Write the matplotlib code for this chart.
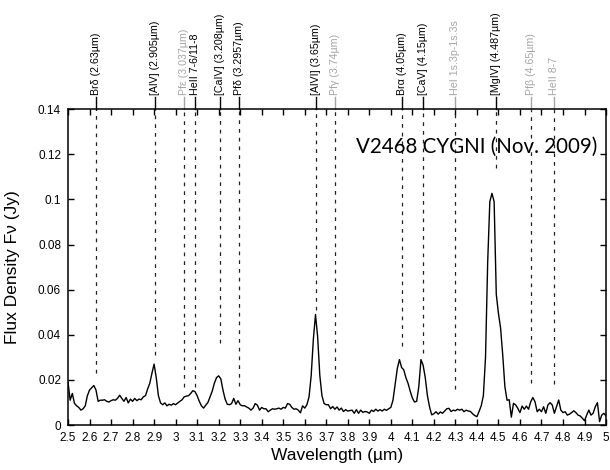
''' Espectre de V2468 Cygni (Nov. 2009) amb les línies identificades '''

import matplotlib.pyplot as plt
import numpy as np

plt.rcParams['font.family'] = ['Liberation Sans', 'DejaVu Sans']

# Longitud d'ona (um), pas de 0.01
wave = np.round(np.arange(2.50, 5.001, 0.01), 2)

# Flux (Jy), llegit del gràfic
flux = [
    0.019, 0.011, 0.014, 0.0096, 0.0085, 0.0078, 0.0066, 0.0072, 0.0085, 0.013,
    0.0155, 0.0165, 0.0175, 0.0155, 0.0105, 0.011, 0.011, 0.0112, 0.0105, 0.0102,
    0.0108, 0.0112, 0.011, 0.0118, 0.0132, 0.0118, 0.0105, 0.0122, 0.0098, 0.0115,
    0.0105, 0.0118, 0.0108, 0.0115, 0.0112, 0.0125, 0.013, 0.016, 0.0185, 0.023,
    0.027, 0.021, 0.013, 0.0098, 0.009, 0.0098, 0.0085, 0.0092, 0.0088, 0.0095,
    0.009, 0.0098, 0.0105, 0.0112, 0.0125, 0.0128, 0.013, 0.014, 0.0152, 0.0148,
    0.013, 0.0105, 0.0085, 0.0075, 0.0088, 0.0100, 0.0125, 0.0150, 0.0185, 0.0210,
    0.0218, 0.0205, 0.0155, 0.0115, 0.0092, 0.0090, 0.0095, 0.0118, 0.0092, 0.0108,
    0.0090, 0.0085, 0.0086, 0.0080, 0.0075, 0.0066, 0.0075, 0.0095, 0.0088, 0.0066,
    0.0078, 0.0072, 0.0072, 0.0059, 0.0066, 0.0072, 0.0070, 0.0072, 0.0075, 0.0070,
    0.0078, 0.0075, 0.0095, 0.0092, 0.0078, 0.0070, 0.0072, 0.0066, 0.0054, 0.0085,
    0.0075, 0.0090, 0.0125, 0.022, 0.038, 0.049, 0.039, 0.022, 0.013, 0.0095,
    0.0090, 0.0090, 0.0072, 0.0082, 0.0070, 0.0080, 0.0066, 0.0075, 0.0060, 0.0068,
    0.0062, 0.0064, 0.0066, 0.0052, 0.0068, 0.0052, 0.0066, 0.0056, 0.0060, 0.0058,
    0.0052, 0.0066, 0.0060, 0.0070, 0.0062, 0.0068, 0.0062, 0.0070, 0.0065, 0.0072,
    0.0078, 0.0110, 0.0180, 0.0250, 0.0290, 0.0255, 0.0245, 0.0210, 0.0185, 0.0150,
    0.0120, 0.0102, 0.0105, 0.0170, 0.0290, 0.0265, 0.0210, 0.0130, 0.0080, 0.0045,
    0.0050, 0.0059, 0.0048, 0.0058, 0.0052, 0.0062, 0.0072, 0.0074, 0.0060, 0.0066,
    0.0063, 0.0070, 0.0066, 0.0070, 0.0059, 0.0066, 0.0062, 0.0060, 0.0050, 0.0042,
    0.0037, 0.0060, 0.0085, 0.0130, 0.0300, 0.0720, 0.0990, 0.1027, 0.0990, 0.0580,
    0.0495, 0.0430, 0.0310, 0.0170, 0.0110, 0.0112, 0.0035, 0.0096, 0.0089, 0.0074,
    0.0055, 0.0084, 0.0070, 0.0084, 0.0070, 0.0103, 0.0122, 0.0103, 0.0059, 0.0070,
    0.0059, 0.0081, 0.0052, 0.0089, 0.0099, 0.0089, 0.0052, 0.0081, 0.0111, 0.0066,
    0.0055, 0.0059, 0.0044, 0.0048, 0.0055, 0.0063, 0.0055, 0.0044, 0.0040, 0.0030,
    0.0019, 0.0044, 0.0066, 0.0044, 0.0052, 0.0081, 0.0099, 0.0015, 0.0044, 0.0052,
    0.0040,
]

# Línies identificades
line_labels = ['Brδ (2.63µm)', '[AlV] (2.905µm)', 'Pfε (3.037µm)', 'HeII 7-6/11-8',
               '[CaIV] (3.208µm)', 'Pfδ (3.2957µm)', '[AlVI] (3.65µm)', 'Pfγ (3.74µm)',
               'Brα (4.05µm)', '[CaV] (4.15µm)', 'HeI 1s.3p-1s.3s', '[MgIV] (4.487µm)',
               'Pfβ (4.65µm)', 'HeII 8-7']
line_pos = [2.63, 2.905, 3.037, 3.09, 3.208, 3.2957, 3.65, 3.74,
            4.05, 4.15, 4.30, 4.487, 4.65, 4.76]
line_weak = [False, False, True, False, False, False, False, True,
             False, False, True, False, True, True]
# fins on baixa la línia discontínua
line_bottom = [0.023, 0.031, 0.017, 0.017, 0.0365, 0.0175, 0.051, 0.021,
               0.035, 0.032, 0.016, 0.114, 0.0185, 0.018]

fig = plt.figure(figsize=(6.1, 4.7), dpi=100)
ax = fig.add_axes([0.1115, 0.0957, 0.882, 0.672])

# Espectre
ax.plot(wave, flux, color='black', lw=1.0)

# Línies: discontínua a dins, tros sòlid i etiqueta a fora
trans = ax.get_xaxis_transform()
for lab, x, weak, y0 in zip(line_labels, line_pos, line_weak, line_bottom):
    c = '#a6a6a6' if weak else 'black'
    ax.plot([x, x], [y0, 0.14], color='#222222', lw=0.9, ls=(0, (3, 4)))
    ax.plot([x, x], [1.0, 1.038], color=c, lw=1.0, transform=trans, clip_on=False)
    ax.text(x, 1.045, lab, rotation=90, ha='center', va='bottom',
            fontsize=7.7, color=c, transform=trans)

ax.text(0.983, 0.88, 'V2468 CYGNI (Nov. 2009)', transform=ax.transAxes,
        ha='right', va='center', fontsize=14.8, family=['Lato', 'DejaVu Sans'])

ax.set_xlim(2.5, 5.0)
ax.set_ylim(0, 0.14)
ax.set_xticks(np.round(np.arange(2.5, 5.01, 0.1), 1))
ax.set_xticklabels(['2.5', '2.6', '2.7', '2.8', '2.9', '3', '3.1', '3.2', '3.3', '3.4',
                    '3.5', '3.6', '3.7', '3.8', '3.9', '4', '4.1', '4.2', '4.3', '4.4',
                    '4.5', '4.6', '4.7', '4.8', '4.9', '5'])
ax.set_yticks([0, 0.02, 0.04, 0.06, 0.08, 0.1, 0.12, 0.14])
ax.set_yticklabels(['0', '0.02', '0.04', '0.06', '0.08', '0.1', '0.12', '0.14'])
ax.tick_params(direction='in', top=True, right=True, length=4, width=1,
               labelsize=8.5, pad=5)
for s in ax.spines.values():
    s.set_linewidth(1.1)

ax.set_xlabel('Wavelength (µm)', fontsize=12.5, labelpad=3)
ax.set_ylabel('Flux Density Fν (Jy)', fontsize=12.5, labelpad=13)

plt.savefig('out.png', dpi=100)
